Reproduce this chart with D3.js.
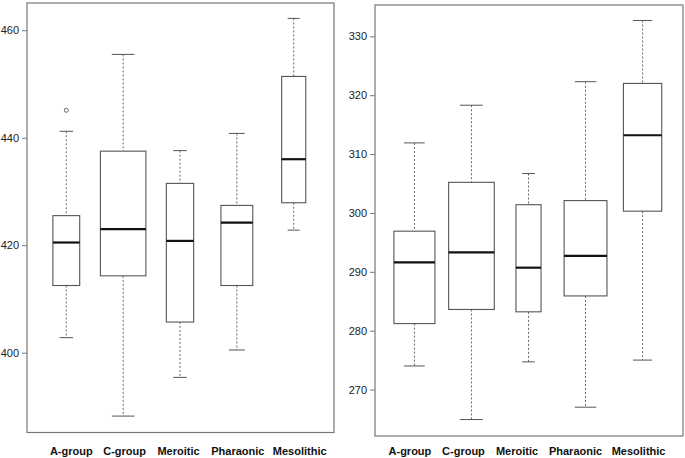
<!DOCTYPE html>
<html>
<head>
<meta charset="utf-8">
<script src="https://cdn.jsdelivr.net/npm/d3@7"></script>
<style>
  body { margin: 0; background: #fff; }
  svg { display: block; font-family: "Liberation Sans", Arial, Helvetica, sans-serif; }
</style>
</head>
<body>
<svg id="chart" width="685" height="458"></svg>
<script>
const categories = ["A-group", "C-group", "Meroitic", "Pharaonic", "Mesolithic"];

// left panel: [lower whisker, Q1, median, Q3, upper whisker]
const leftStats = [
  [402.8, 412.5, 420.5, 425.5, 441.2],
  [388.2, 414.3, 423.0, 437.5, 455.5],
  [395.4, 405.7, 420.8, 431.5, 437.6],
  [400.5, 412.5, 424.2, 427.4, 440.8],
  [422.8, 427.9, 436.0, 451.4, 462.2],
];
const leftOutliers = [[445.1], [], [], [], []];
const leftWidths = [0.59, 1.0, 0.60, 0.70, 0.53]; // relative box width (varwidth)
const leftTicks = [400, 420, 440, 460];

// right panel
const rightStats = [
  [274.0, 281.2, 291.6, 296.9, 311.9],
  [264.9, 283.6, 293.3, 305.2, 318.3],
  [274.7, 283.2, 290.7, 301.4, 306.7],
  [267.0, 285.9, 292.7, 302.1, 322.3],
  [275.0, 300.3, 313.2, 322.0, 332.7],
];
const rightOutliers = [[], [], [], [], []];
const rightWidths = [0.90, 1.0, 0.55, 0.94, 0.84];
const rightTicks = [270, 280, 290, 300, 310, 320, 330];

const svg = d3.select("#chart");

function drawPanel(opt) {
  const g = svg.append("g");

  // R-style: 4% extension on both axes
  const allVals = opt.stats.flat().concat(opt.outliers.flat());
  const lo = d3.min(allVals), hi = d3.max(allVals);
  const pad = (hi - lo) * 0.04;
  const y = d3.scaleLinear().domain([lo - pad, hi + pad]).range([opt.bottom, opt.top]);
  const x = d3.scaleLinear().domain([0.3, categories.length + 0.7]).range([opt.left, opt.right]);
  const unit = x(1) - x(0);

  // frame
  g.append("rect")
    .attr("x", opt.left + 0.5).attr("y", opt.top + 0.5)
    .attr("width", opt.right - opt.left).attr("height", opt.bottom - opt.top)
    .attr("fill", "none").attr("stroke", "#777").attr("stroke-width", 1.2);

  // y axis
  const axis = g.append("g")
    .attr("transform", `translate(${opt.left + 0.5},0)`)
    .call(d3.axisLeft(y).tickValues(opt.ticks).tickSize(5).tickPadding(3).tickFormat(d3.format("d")));
  axis.select(".domain").remove();
  axis.selectAll("line").attr("stroke", "#777");
  axis.selectAll("text").attr("font-size", 11).attr("fill", "#222")
    .attr("font-family", "'Liberation Sans', Arial, sans-serif");

  const boxes = g.selectAll(".box").data(opt.stats).enter().append("g").attr("class", "box");

  boxes.each(function (s, i) {
    const b = d3.select(this);
    const cx = x(i + 1);
    const w = 0.8 * unit * opt.widths[i];
    const cap = w / 2;

    // whiskers
    b.append("line").attr("x1", cx).attr("x2", cx).attr("y1", y(s[4])).attr("y2", y(s[3]))
      .attr("stroke", "#666").attr("stroke-dasharray", "2,2");
    b.append("line").attr("x1", cx).attr("x2", cx).attr("y1", y(s[1])).attr("y2", y(s[0]))
      .attr("stroke", "#666").attr("stroke-dasharray", "2,2");
    // staples
    b.append("line").attr("x1", cx - cap / 2).attr("x2", cx + cap / 2).attr("y1", y(s[4])).attr("y2", y(s[4]))
      .attr("stroke", "#555");
    b.append("line").attr("x1", cx - cap / 2).attr("x2", cx + cap / 2).attr("y1", y(s[0])).attr("y2", y(s[0]))
      .attr("stroke", "#555");
    // box
    b.append("rect").attr("x", cx - w / 2).attr("y", y(s[3]))
      .attr("width", w).attr("height", y(s[1]) - y(s[3]))
      .attr("fill", "#fff").attr("stroke", "#555").attr("stroke-width", 1.1);
    // median
    b.append("line").attr("x1", cx - w / 2).attr("x2", cx + w / 2).attr("y1", y(s[2])).attr("y2", y(s[2]))
      .attr("stroke", "#111").attr("stroke-width", 2.2);
    // outliers
    opt.outliers[i].forEach((o) => {
      b.append("circle").attr("cx", cx).attr("cy", y(o)).attr("r", 2)
        .attr("fill", "none").attr("stroke", "#555").attr("stroke-width", 0.9);
    });
  });

  // category labels
  g.selectAll(".cat").data(categories).enter().append("text")
    .attr("class", "cat")
    .attr("x", (d, i) => x(i + 1) + opt.labelShift[i])
    .attr("y", 454.5)
    .attr("text-anchor", "middle")
    .attr("font-size", 11).attr("font-weight", "bold").attr("fill", "#111")
    .text((d) => d);
}

drawPanel({
  stats: leftStats, outliers: leftOutliers, widths: leftWidths, ticks: leftTicks,
  left: 26.5, right: 333.5, top: 2.5, bottom: 432,
  labelShift: [5, 1.5, -1.5, 1, 6],
});

drawPanel({
  stats: rightStats, outliers: rightOutliers, widths: rightWidths, ticks: rightTicks,
  left: 374.5, right: 682.5, top: 4.5, bottom: 435.5,
  labelShift: [-4.5, -8, -11.5, -10, -4],
});
</script>
</body>
</html>
